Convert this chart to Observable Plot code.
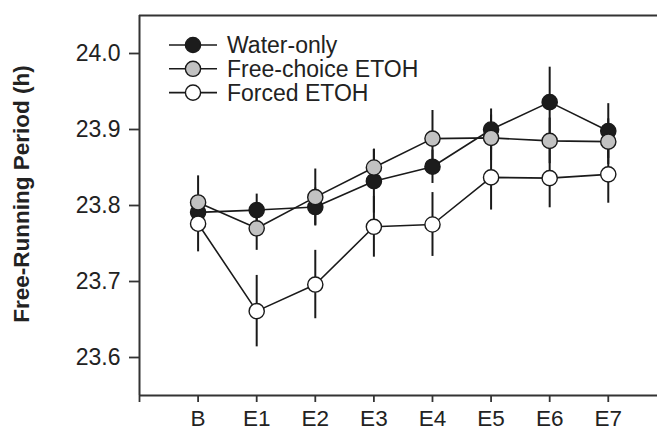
<!DOCTYPE html>
<html>
<head>
<meta charset="utf-8">
<script src="https://cdn.jsdelivr.net/npm/d3@7"></script>
<script src="https://cdn.jsdelivr.net/npm/@observablehq/plot@0.6"></script>
<style>
  html, body { margin: 0; padding: 0; background: #fff; }
  #wrap { position: relative; width: 657px; height: 433px; overflow: hidden; }
  #legend { position: absolute; left: 160px; top: 30px; }
  #ylabel { position: absolute; left: 22px; top: 194px; width: 300px; margin-left: -150px; margin-top: -14px;
            height: 28px; line-height: 28px; text-align: center; transform: rotate(-90deg);
            font-family: "Liberation Sans", Arial, Helvetica, sans-serif; font-weight: bold; font-size: 22.5px;
            color: #222; white-space: nowrap; }
  text { font-family: "Liberation Sans", Arial, Helvetica, sans-serif; }
</style>
</head>
<body>
<div id="wrap"></div>
<script>
// ---- data ----
const categories = ["B", "E1", "E2", "E3", "E4", "E5", "E6", "E7"];
const seriesNames = ["Water-only", "Free-choice ETOH", "Forced ETOH"];
const waterOnly   = [23.791, 23.794, 23.798, 23.832, 23.851, 23.900, 23.936, 23.898];
const waterSE     = [0.020, 0.021, 0.025, 0.042, 0.022, 0.027, 0.046, 0.036];
const freeChoice  = [23.804, 23.770, 23.811, 23.850, 23.888, 23.889, 23.885, 23.884];
const freeSE      = [0.035, 0.029, 0.037, 0.024, 0.037, 0.030, 0.030, 0.030];
const forced      = [23.776, 23.661, 23.696, 23.772, 23.775, 23.837, 23.836, 23.841];
const forcedSE    = [0.037, 0.047, 0.045, 0.040, 0.042, 0.043, 0.039, 0.038];
const yTicks = [23.6, 23.7, 23.8, 23.9, 24.0];
const yLabel = "Free-Running Period (h)";

const fills = ["#1c1c1c", "#c2c2c2", "#ffffff"];
const ink = "#1a1a1a";
const font = "Liberation Sans, Arial, Helvetica, sans-serif";

const seriesVals = [waterOnly, freeChoice, forced];
const seriesSE = [waterSE, freeSE, forcedSE];
const rows = seriesNames.map((name, s) =>
  categories.map((c, i) => ({series: name, s, i, v: seriesVals[s][i], se: seriesSE[s][i]}))
);
const all = rows.flat();

const yDomain = [23.55, 24.05];
const xDomain = [-1, 7.84];

const marks = [
  // frame lines (left, top, bottom)
  Plot.ruleY([yDomain[1]], {stroke: "#333", strokeWidth: 2}),
  Plot.ruleY([yDomain[0]], {stroke: "#333", strokeWidth: 2}),
  Plot.ruleX([xDomain[0]], {stroke: "#333", strokeWidth: 2}),
  Plot.axisY({ticks: yTicks, tickFormat: d3.format(".1f"), tickSize: 10, tickPadding: 9,
              fontSize: 23, strokeWidth: 1.8, stroke: "#333", color: "#222", label: null}),
  Plot.axisX({ticks: [-1, 0, 1, 2, 3, 4, 5, 6, 7], tickFormat: d => categories[d] ?? "",
              tickSize: 7, tickPadding: 8, fontSize: 22.5, strokeWidth: 1.8, stroke: "#333", color: "#222", label: null}),
  // error bars
  Plot.ruleX(all, {x: "i", y1: d => d.v - d.se, y2: d => d.v + d.se, stroke: ink, strokeWidth: 2})
];
rows.forEach((r, s) => {
  marks.push(Plot.line(r, {x: "i", y: "v", stroke: ink, strokeWidth: 1.6}));
  marks.push(Plot.dot(r, {x: "i", y: "v", r: 7.6, fill: fills[s], stroke: ink, strokeWidth: 1.4}));
});

const chart = Plot.plot({
  width: 657,
  height: 433,
  marginLeft: 139,
  marginRight: 0,
  marginTop: 15,
  marginBottom: 38,
  style: {fontFamily: font, background: "#fff", overflow: "visible"},
  x: {type: "linear", domain: xDomain},
  y: {domain: yDomain},
  marks
});
const wrap = document.getElementById("wrap");
wrap.appendChild(chart);

// y-axis title
const yl = document.createElement("div");
yl.id = "ylabel";
yl.textContent = yLabel;
wrap.appendChild(yl);

// legend
const ns = "http://www.w3.org/2000/svg";
const leg = document.createElementNS(ns, "svg");
leg.setAttribute("id", "legend");
leg.setAttribute("width", "320");
leg.setAttribute("height", "80");
seriesNames.forEach((name, s) => {
  const y = 15 + s * 23.8;
  const line = document.createElementNS(ns, "line");
  line.setAttribute("x1", 9); line.setAttribute("x2", 57);
  line.setAttribute("y1", y); line.setAttribute("y2", y);
  line.setAttribute("stroke", ink); line.setAttribute("stroke-width", 1.6);
  leg.appendChild(line);
  const c = document.createElementNS(ns, "circle");
  c.setAttribute("cx", 33); c.setAttribute("cy", y); c.setAttribute("r", 7.6);
  c.setAttribute("fill", fills[s]); c.setAttribute("stroke", ink); c.setAttribute("stroke-width", 1.4);
  leg.appendChild(c);
  const t = document.createElementNS(ns, "text");
  t.setAttribute("x", 67); t.setAttribute("y", y);
  t.setAttribute("dy", "0.35em");
  t.setAttribute("font-size", 23);
  t.setAttribute("fill", "#222");
  t.textContent = name;
  leg.appendChild(t);
});
wrap.appendChild(leg);
</script>
</body>
</html>
